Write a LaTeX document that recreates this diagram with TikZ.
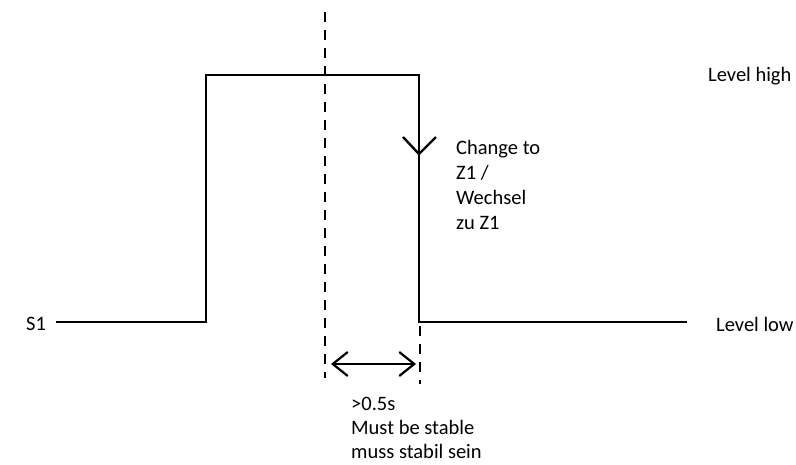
\documentclass[tikz,border=0pt]{standalone}
\usepackage{fontspec}
\setmainfont{Carlito}
\usetikzlibrary{arrows.meta}
\begin{document}
\begin{tikzpicture}[x=1pt,y=-1pt,
  sig/.style={line width=2.4pt,line cap=rect},
  guide/.style={line width=2.4pt,dash pattern=on 10pt off 8pt},
  lbl/.style={font=\fontsize{20.5}{25}\selectfont,inner sep=0pt,align=left}]
\useasboundingbox (0,0) rectangle (796,464);
% signal
\coordinate (l0) at (57,322);
\coordinate (l1) at (206,322);
\coordinate (h0) at (206,75);
\coordinate (h1) at (419,75);
\coordinate (f1) at (419,322);
\coordinate (r1) at (686,322);
\draw[sig] (l0) -- (l1) -- (h0) -- (h1) -- (f1) -- (r1);
% arrow on falling edge
\coordinate (vl) at (403,137);
\coordinate (vt) at (419,154);
\coordinate (vr) at (436,137);
\draw[line width=2.4pt] (vl) -- (vt) -- (vr);
% dashed guides
\coordinate (d0) at (325,12);
\coordinate (d1) at (325,378);
\draw[guide] (d0) -- (d1);
\coordinate (e0) at (420,326);
\coordinate (e1) at (420,384);
\draw[guide] (e0) -- (e1);
% duration arrow
\coordinate (a0) at (331,364);
\coordinate (a1) at (416,364);
\draw[line width=2.2pt,{Straight Barb[length=15pt,width=24pt]}-{Straight Barb[length=15pt,width=24pt]}] (a0) -- (a1);
% labels
\node[lbl,anchor=west] (s1) at (26,324) {S1};
\node[lbl,anchor=west] (hi) at (708,76) {Level high};
\node[lbl,anchor=west] (lo) at (716,324) {Level low};
\node[lbl,anchor=north west] (chg) at (456,140) {Change to\\Z1 /\\Wechsel\\zu Z1};
\node[lbl,anchor=north west,font=\fontsize{20.5}{24}\selectfont] (dur) at (351,397) {>0.5s\\Must be stable\\muss stabil sein};
\end{tikzpicture}
\end{document}
